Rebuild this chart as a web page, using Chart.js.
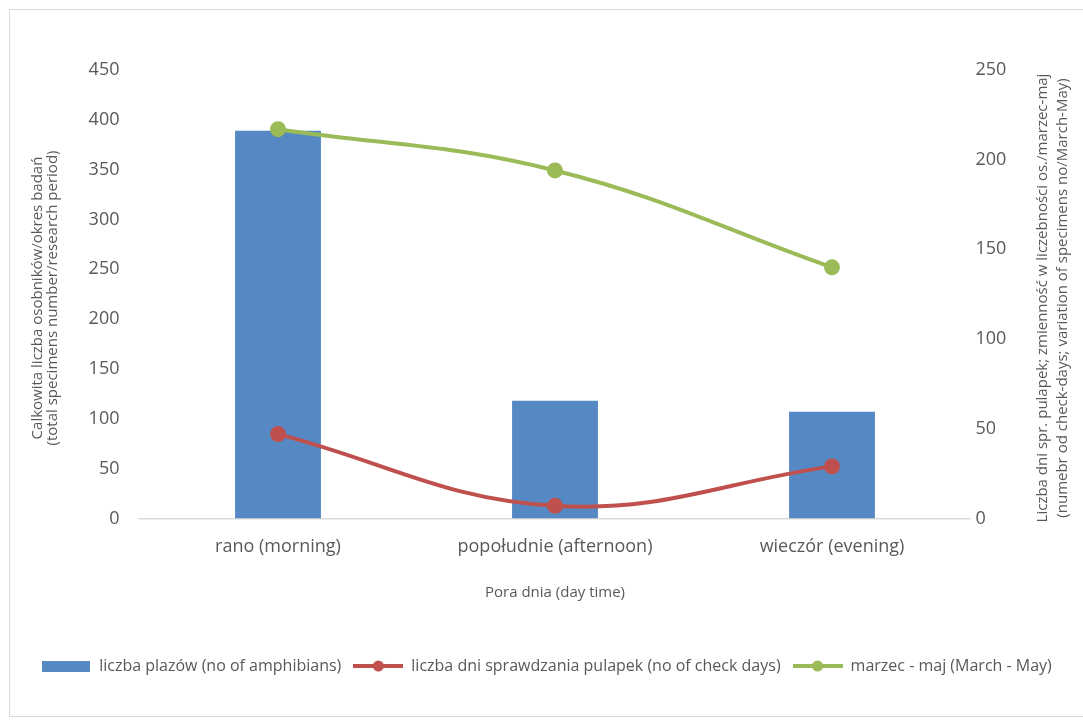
<!DOCTYPE html>
<html>
  <head>
    <meta charset="UTF-8" />
    <title>Pora dnia</title>
    <style>
      html, body { margin: 0; padding: 0; background: #fff; overflow: hidden; }
      #wrap { position: relative; width: 1083px; height: 722px; }
      #frame {
        position: absolute; left: 9px; top: 9px; width: 1100px; height: 708px;
        border: 1px solid #d9d9d9; box-sizing: border-box; pointer-events: none;
      }
    </style>
  </head>
  <body>
    <div id="wrap">
      <canvas id="chart" width="1083" height="722"></canvas>
      <div id="frame"></div>
    </div>
    <script src="https://cdn.jsdelivr.net/npm/chart.js"></script>
    <script>
      // data
      const categories = ['rano (morning)', 'popołudnie (afternoon)', 'wieczór (evening)'];
      const amphibians = [389, 118, 107];
      const checkDays = [47, 7, 29];
      const marchMay = [217, 194, 140];

      const leftTicks = [0, 50, 100, 150, 200, 250, 300, 350, 400, 450];
      const rightTicks = [0, 50, 100, 150, 200, 250];

      const leftTitle = ['Calkowita liczba osobników/okres badań', '(total specimens number/research period)'];
      const rightTitle = ['Liczba dni spr. pulapek; zmienność w liczebności os./marzec-maj', '(numebr od check-days; variation of specimens no/March-May)'];

      const BLUE = '#5689c4';
      const RED = '#c0504d';
      const GREEN = '#9bbb59';
      const TEXT = '#595959';
      const FONT = '"Open Sans", Lato, sans-serif';

      // legend swatches like Excel: line with a dot, plain box for bars
      function lineSwatch(color) {
        const c = document.createElement('canvas');
        c.width = 50; c.height = 14;
        const g = c.getContext('2d');
        g.strokeStyle = color; g.lineWidth = 4;
        g.beginPath(); g.moveTo(0, 7); g.lineTo(50, 7); g.stroke();
        g.fillStyle = color;
        g.beginPath(); g.arc(25, 7, 5.5, 0, Math.PI * 2); g.fill();
        return c;
      }
      function boxSwatch(color) {
        const c = document.createElement('canvas');
        c.width = 48; c.height = 11;
        const g = c.getContext('2d');
        g.fillStyle = color; g.fillRect(0, 0, 48, 11);
        return c;
      }

      // both y titles read bottom-to-top, as in the original
      const axisTitles = {
        id: 'axisTitles',
        afterDraw(chart) {
          const g = chart.ctx;
          const mid = 298;
          g.save();
          g.fillStyle = TEXT;
          g.font = '15px ' + FONT;
          g.textAlign = 'center';
          g.textBaseline = 'middle';
          [[leftTitle, [38, 53]], [rightTitle, [1043, 1063]]].forEach(([lines, xs]) => {
            lines.forEach((t, i) => {
              g.save();
              g.translate(xs[i], mid);
              g.rotate(-Math.PI / 2);
              g.fillText(t, 0, 0);
              g.restore();
            });
          });
          g.restore();
        },
      };

      const ctx = document.getElementById('chart').getContext('2d');
      new Chart(ctx, {
        data: {
          labels: categories,
          datasets: [
            {
              type: 'line',
              label: 'liczba dni sprawdzania pulapek (no of check days)',
              data: checkDays,
              yAxisID: 'y1',
              borderColor: RED,
              backgroundColor: RED,
              borderWidth: 4,
              pointRadius: 6,
              pointHoverRadius: 6,
              tension: 0.4,
              order: 1,
            },
            {
              type: 'line',
              label: 'marzec - maj (March - May)',
              data: marchMay,
              yAxisID: 'y1',
              borderColor: GREEN,
              backgroundColor: GREEN,
              borderWidth: 4,
              pointRadius: 6,
              pointHoverRadius: 6,
              tension: 0.4,
              order: 0,
            },
            {
              type: 'bar',
              label: 'liczba plazów (no of amphibians)',
              data: amphibians,
              yAxisID: 'y',
              backgroundColor: BLUE,
              categoryPercentage: 1,
              barPercentage: 0.31,
              order: 2,
            },
          ],
        },
        plugins: [axisTitles],
        options: {
          responsive: false,
          animation: false,
          layout: { padding: { left: 10, top: 70, right: 0, bottom: 38 } },
          scales: {
            x: {
              grid: { display: false, drawTicks: false },
              border: { color: '#d9d9d9', width: 1.5 },
              ticks: { color: TEXT, font: { family: FONT, size: 18 }, padding: 18 },
              title: {
                display: true,
                text: 'Pora dnia (day time)',
                color: TEXT,
                font: { family: FONT, size: 15 },
                padding: { top: 8, bottom: 44 },
              },
            },
            y: {
              position: 'left',
              min: 0,
              max: 450,
              afterBuildTicks: (s) => { s.ticks = leftTicks.map((v) => ({ value: v })); },
              grid: { display: false, drawTicks: false },
              border: { display: false },
              ticks: { color: TEXT, font: { family: FONT, size: 18 }, padding: 20 },
              afterFit: (s) => { s.width = 129.5; },
            },
            y1: {
              position: 'right',
              min: 0,
              max: 250,
              afterBuildTicks: (s) => { s.ticks = rightTicks.map((v) => ({ value: v })); },
              grid: { display: false, drawTicks: false },
              border: { display: false },
              ticks: { color: TEXT, font: { family: FONT, size: 18 }, padding: 5 },
              afterFit: (s) => { s.width = 112.5; },
            },
          },
          plugins: {
            tooltip: { enabled: false },
            legend: {
              position: 'bottom',
              labels: {
                color: TEXT,
                font: { family: FONT, size: 16 },
                usePointStyle: true,
                pointStyleWidth: 50,
                padding: 12,
                sort: (a, b) => {
                  const rank = [1, 2, 0];
                  return rank[a.datasetIndex] - rank[b.datasetIndex];
                },
                generateLabels: (chart) =>
                  chart.data.datasets.map((ds, i) => ({
                    text: ds.label,
                    fontColor: TEXT,
                    datasetIndex: i,
                    pointStyle: ds.type === 'bar' ? boxSwatch(BLUE) : lineSwatch(ds.borderColor),
                    fillStyle: ds.backgroundColor,
                    strokeStyle: ds.backgroundColor,
                    lineWidth: 0,
                    hidden: false,
                  })),
              },
            },
          },
        },
      });
    </script>
  </body>
</html>
